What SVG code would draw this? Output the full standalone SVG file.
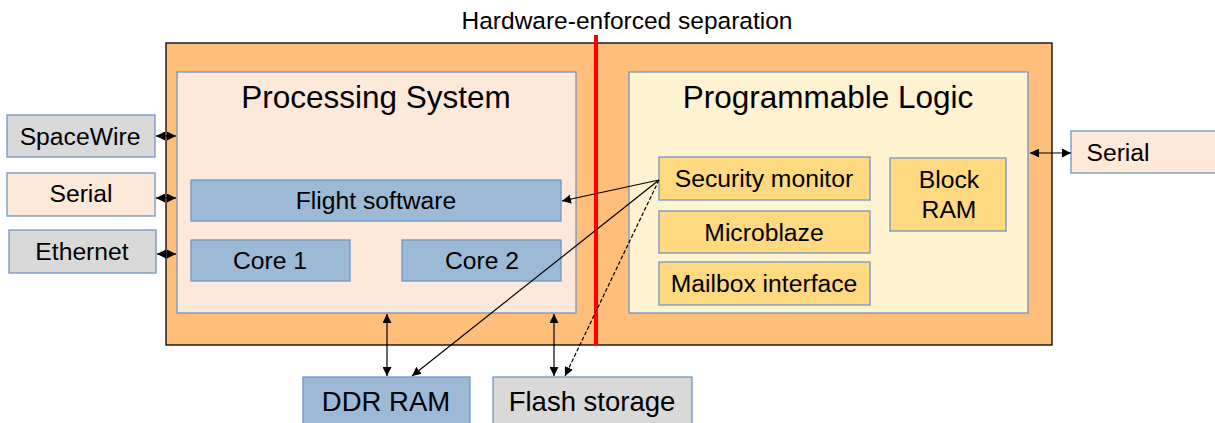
<svg xmlns="http://www.w3.org/2000/svg" width="1215" height="423" viewBox="0 0 1215 423">
  <style>
    text { font-family: "Liberation Sans", Arial, sans-serif; fill: #000; text-anchor: middle; }
    .box { stroke: #7096C4; stroke-width: 1.3; }
    .grey { fill: #D9D9D9; }
    .peach { fill: #FDE9D9; }
    .blue { fill: #9CB9D6; }
    .yellow { fill: #FFD980; }
    .lbl { font-size: 24.7px; }
    .big { font-size: 27.5px; }
    .title { font-size: 31.5px; }
    .conn { stroke: #000; stroke-width: 1.2; fill: none; }
  </style>
  <defs>
    <marker id="arr" viewBox="0 0 10 10" refX="10" refY="5" markerWidth="9" markerHeight="9" markerUnits="userSpaceOnUse" orient="auto-start-reverse">
      <path d="M0,0 L10,5 L0,10 z" fill="#000"/>
    </marker>
  </defs>

  <!-- SoC package -->
  <g id="soc">
    <rect x="166" y="43" width="886" height="302" fill="#FFBE7A" stroke="#000" stroke-width="1.3"/>
  </g>

  <g id="processing-system">
    <rect class="box peach" x="177" y="72" width="399" height="241"/>
    <text class="title" x="376" y="108">Processing System</text>
  </g>
  <g id="programmable-logic">
    <rect class="box" x="629" y="72" width="399" height="241" fill="#FFF2D0"/>
    <text class="title" x="828" y="108">Programmable Logic</text>
  </g>

  <g id="flight-software">
    <rect class="box blue" x="191" y="180" width="370" height="41"/>
    <text class="lbl" x="376" y="209">Flight software</text>
  </g>
  <g id="core1">
    <rect class="box blue" x="191" y="240" width="159" height="41"/>
    <text class="lbl" x="270" y="269">Core 1</text>
  </g>
  <g id="core2">
    <rect class="box blue" x="402" y="240" width="159" height="41"/>
    <text class="lbl" x="482" y="269">Core 2</text>
  </g>

  <g id="security-monitor">
    <rect class="box yellow" x="659" y="157" width="211" height="43"/>
    <text class="lbl" x="764" y="187">Security monitor</text>
  </g>
  <g id="microblaze">
    <rect class="box yellow" x="659" y="211" width="211" height="42"/>
    <text class="lbl" x="764" y="241">Microblaze</text>
  </g>
  <g id="mailbox">
    <rect class="box yellow" x="659" y="262" width="211" height="43"/>
    <text class="lbl" x="764" y="292">Mailbox interface</text>
  </g>
  <g id="block-ram">
    <rect class="box yellow" x="890" y="158" width="116" height="73"/>
    <text class="lbl" x="949" y="188">Block</text>
    <text class="lbl" x="949" y="218">RAM</text>
  </g>

  <g id="spacewire">
    <rect class="box grey" x="7" y="115" width="148" height="42"/>
    <text class="lbl" x="80" y="145">SpaceWire</text>
  </g>
  <g id="serial-left">
    <rect class="box peach" x="7" y="173" width="148" height="43"/>
    <text class="lbl" x="81" y="202">Serial</text>
  </g>
  <g id="ethernet">
    <rect class="box grey" x="9" y="230" width="147" height="43"/>
    <text class="lbl" x="82" y="260">Ethernet</text>
  </g>
  <g id="serial-right">
    <rect class="box peach" x="1071" y="131" width="150" height="42"/>
    <text class="lbl" x="1118" y="161">Serial</text>
  </g>
  <g id="ddr-ram">
    <rect class="box blue" x="303" y="377" width="167" height="50"/>
    <text class="big" x="386" y="411">DDR RAM</text>
  </g>
  <g id="flash-storage">
    <rect class="box grey" x="493" y="377" width="199" height="50"/>
    <text class="big" x="592" y="411">Flash storage</text>
  </g>

  <!-- isolation boundary between PS and PL -->
  <g id="separation">
    <line x1="596" y1="35" x2="596" y2="345" stroke="#FF0000" stroke-width="4"/>
    <text x="627" y="29" style="font-size:24.5px">Hardware-enforced separation</text>
  </g>

  <g id="connectors">
    <line class="conn" x1="156" y1="136" x2="176" y2="136" marker-start="url(#arr)" marker-end="url(#arr)"/>
    <line class="conn" x1="156" y1="198" x2="176" y2="198" marker-start="url(#arr)" marker-end="url(#arr)"/>
    <line class="conn" x1="157" y1="254" x2="176" y2="254" marker-start="url(#arr)" marker-end="url(#arr)"/>
    <line class="conn" x1="1030" y1="153" x2="1071" y2="153" marker-start="url(#arr)" marker-end="url(#arr)"/>
    <line class="conn" x1="387" y1="314" x2="387" y2="376" marker-start="url(#arr)" marker-end="url(#arr)"/>
    <line class="conn" x1="554" y1="314" x2="554" y2="376" marker-start="url(#arr)" marker-end="url(#arr)"/>
    <line class="conn" x1="659" y1="180" x2="562" y2="201" marker-end="url(#arr)"/>
    <line class="conn" x1="659" y1="180" x2="412" y2="376" marker-end="url(#arr)"/>
    <line class="conn" x1="659" y1="180" x2="565" y2="376" stroke-dasharray="4,2" marker-end="url(#arr)"/>
  </g>
</svg>
